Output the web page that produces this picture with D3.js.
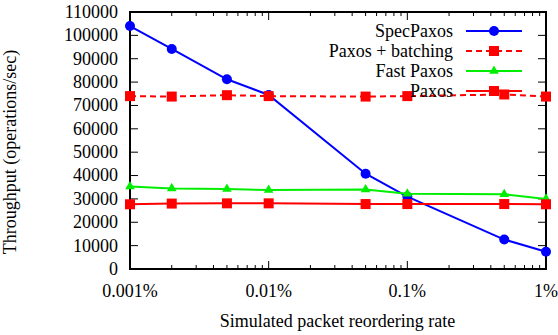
<!DOCTYPE html>
<html>
<head>
<meta charset="utf-8">
<script src="https://cdn.jsdelivr.net/npm/d3@7"></script>
<style>
  body { margin: 0; background: #fff; }
  svg text { font-family: "Liberation Serif", "Times New Roman", serif; font-size: 18px; fill: #000; }
</style>
</head>
<body>
<div id="chart"></div>
<script>
// packet reordering rate, in percent
var rates = [0.001, 0.002, 0.005, 0.01, 0.05, 0.1, 0.5, 1];

var specPaxos = [104000, 94200, 81200, 74500, 40800, 31000, 12600, 7400];
var paxosBatching = [74000, 73800, 74400, 74000, 73800, 74000, 74700, 73800];
var fastPaxos = [35300, 34500, 34200, 33800, 34000, 32200, 32000, 30000];
var paxos = [27700, 28000, 28100, 28100, 27800, 27800, 27800, 27700];

var seriesNames = ["SpecPaxos", "Paxos + batching", "Fast Paxos", "Paxos"];
var yTicks = [0, 10000, 20000, 30000, 40000, 50000, 60000, 70000, 80000, 90000, 100000, 110000];
var xTicks = [0.001, 0.01, 0.1, 1];

var width = 558, height = 335;
var margin = {top: 12, right: 12, bottom: 66, left: 130};

var svg = d3.select("#chart").append("svg")
    .attr("width", width)
    .attr("height", height);

var x = d3.scaleLog()
    .domain([0.001, 1])
    .range([margin.left, width - margin.right]);

var y = d3.scaleLinear()
    .domain([0, 110000])
    .range([height - margin.bottom, margin.top]);

var series = [
  {name: seriesNames[0], values: specPaxos, color: "#0000ff", dash: null, shape: "circle"},
  {name: seriesNames[1], values: paxosBatching, color: "#ff0000", dash: "6,4", shape: "square"},
  {name: seriesNames[2], values: fastPaxos, color: "#00ee00", dash: null, shape: "triangle"},
  {name: seriesNames[3], values: paxos, color: "#ff0000", dash: null, shape: "square"}
];

// minor ticks 2..9 in each decade
var minor = [];
[0.001, 0.01, 0.1].forEach(function(d) {
  for (var k = 2; k <= 9; k++) minor.push(d * k);
});

var x0 = x.range()[0], x1 = x.range()[1], y0 = y.range()[0], y1 = y.range()[1];
var axes = svg.append("g").attr("stroke", "#000").attr("stroke-width", 1);

// y ticks, left and right, inward
yTicks.forEach(function(t) {
  if (t === 0 || t === 110000) return;
  axes.append("line").attr("x1", x0).attr("x2", x0 + 8).attr("y1", y(t)).attr("y2", y(t));
  axes.append("line").attr("x1", x1).attr("x2", x1 - 8).attr("y1", y(t)).attr("y2", y(t));
});

xTicks.forEach(function(t) {
  axes.append("line").attr("x1", x(t)).attr("x2", x(t)).attr("y1", y0).attr("y2", y0 - 8);
  axes.append("line").attr("x1", x(t)).attr("x2", x(t)).attr("y1", y1).attr("y2", y1 + 8);
});
minor.forEach(function(t) {
  axes.append("line").attr("x1", x(t)).attr("x2", x(t)).attr("y1", y0).attr("y2", y0 - 4);
  axes.append("line").attr("x1", x(t)).attr("x2", x(t)).attr("y1", y1).attr("y2", y1 + 4);
});

svg.append("rect")
    .attr("x", x0).attr("y", y1)
    .attr("width", x1 - x0).attr("height", y0 - y1)
    .attr("fill", "none").attr("stroke", "#000").attr("stroke-width", 2);

svg.selectAll(".ylab").data(yTicks).enter().append("text")
    .attr("x", x0 - 12)
    .attr("y", function(d) { return y(d); })
    .attr("dy", "0.33em")
    .attr("text-anchor", "end")
    .text(function(d) { return d; });

var fmt = function(d) { return (d >= 1 ? d3.format("d")(d) : d.toString()) + "%"; };
svg.selectAll(".xlab").data(xTicks).enter().append("text")
    .attr("x", function(d) { return x(d); })
    .attr("y", 297)
    .attr("text-anchor", "middle")
    .text(fmt);

svg.append("text")
    .attr("x", (x0 + x1) / 2 - 0.5)
    .attr("y", 327)
    .attr("text-anchor", "middle")
    .text("Simulated packet reordering rate");

svg.append("text")
    .attr("transform", "translate(16,152) rotate(-90)")
    .attr("text-anchor", "middle")
    .text("Throughput (operations/sec)");

function drawMarker(g, shape, cx, cy, color) {
  if (shape === "circle") {
    g.append("circle").attr("cx", cx).attr("cy", cy).attr("r", 5).attr("fill", color);
  } else if (shape === "square") {
    g.append("rect").attr("x", cx - 5).attr("y", cy - 5).attr("width", 10).attr("height", 10).attr("fill", color);
  } else {
    g.append("path").attr("d", d3.symbol().type(d3.symbolTriangle).size(40)()).attr("transform", "translate(" + cx + "," + cy + ")").attr("fill", color);
  }
}

var line = d3.line()
    .x(function(d, i) { return x(rates[i]); })
    .y(function(d) { return y(d); });

var plot = svg.append("g");
series.forEach(function(s) {
  var g = plot.append("g");
  g.append("path")
      .attr("d", line(s.values))
      .attr("fill", "none")
      .attr("stroke", s.color)
      .attr("stroke-width", 2)
      .attr("stroke-dasharray", s.dash);
  s.values.forEach(function(v, i) { drawMarker(g, s.shape, x(rates[i]), y(v), s.color); });
});

// legend
var legend = svg.append("g");
series.forEach(function(s, i) {
  var ly = 31 + i * 20;
  legend.append("text")
      .attr("x", 453).attr("y", ly).attr("dy", "0.33em")
      .attr("text-anchor", "end")
      .text(s.name);
  legend.append("line")
      .attr("x1", 466).attr("x2", 522).attr("y1", ly).attr("y2", ly)
      .attr("stroke", s.color).attr("stroke-width", 2)
      .attr("stroke-dasharray", s.dash);
  drawMarker(legend, s.shape, 494, ly, s.color);
});
</script>
</body>
</html>
